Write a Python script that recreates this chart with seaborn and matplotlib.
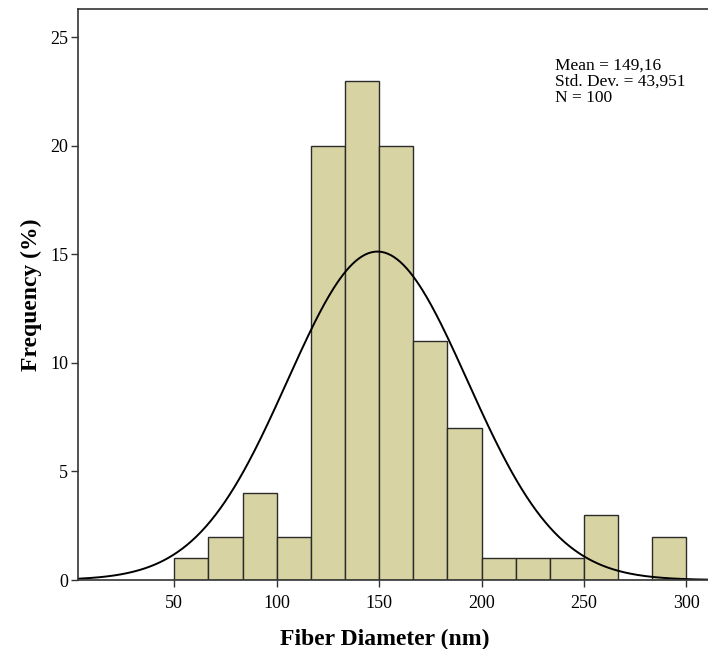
import numpy as np
import pandas as pd
import seaborn as sns
import matplotlib.pyplot as plt

# histogram (percent per bin, bins of 50/3 nm from 50 to 300)
bin_start = 50
bin_end = 300
n_bins = 15
percents = [1, 2, 4, 2, 20, 23, 20, 11, 7, 1, 1, 1, 3, 0, 2]

mean_val = 149.16
std_val = 43.951
n_obs = 100

x_ticks = [50, 100, 150, 200, 250, 300]
y_ticks = [0, 5, 10, 15, 20, 25]

edges = np.linspace(bin_start, bin_end, n_bins + 1)
mids = (edges[:-1] + edges[1:]) / 2
width = edges[1] - edges[0]
df = pd.DataFrame({"diameter": mids, "pct": percents})

sns.set_style("white")
plt.rcParams['font.family'] = ['Liberation Serif', 'DejaVu Serif']
plt.rcParams['text.color'] = 'black'
plt.rcParams['axes.labelcolor'] = 'black'
plt.rcParams['xtick.color'] = '#333333'
plt.rcParams['ytick.color'] = '#333333'

fig = plt.figure(figsize=(7.08, 6.49), dpi=100)
ax = fig.add_axes([0.1102, 0.1063, 0.8898, 0.8798])

sns.histplot(data=df, x="diameter", weights="pct", bins=edges.tolist(), ax=ax,
             color="#d8d3a3", edgecolor="#2b2b2b", linewidth=1.0, alpha=1.0)

xmin, xmax = 3, 310.5
xs = np.linspace(xmin, xmax, 400)
ys = 100 * width / (std_val * np.sqrt(2 * np.pi)) * np.exp(-0.5 * ((xs - mean_val) / std_val) ** 2)
sns.lineplot(x=xs, y=ys, ax=ax, color="black", linewidth=1.4)

ax.set_xlim(xmin, xmax)
ax.set_ylim(0, 26.3)
ax.set_xticks(x_ticks)
ax.set_yticks(y_ticks)
ax.tick_params(axis="both", direction="out", length=5, width=1,
               labelsize=13, labelcolor="black", bottom=True, left=True)
ax.tick_params(axis="x", pad=6)
ax.tick_params(axis="y", pad=2)
for side in ["left", "bottom", "top"]:
    ax.spines[side].set_color("#333333")
    ax.spines[side].set_linewidth(1.2)
ax.spines["right"].set_visible(False)

ax.set_xlabel("Fiber Diameter (nm)", fontsize=17, fontweight="bold", labelpad=10)
ax.xaxis.set_label_coords(0.487, -0.085)
ax.set_ylabel("Frequency (%)", fontsize=17, fontweight="bold", labelpad=6)

stats = "\n".join([
    "Mean = " + f"{mean_val:.2f}".replace(".", ","),
    "Std. Dev. = " + f"{std_val:.3f}".replace(".", ","),
    f"N = {n_obs}",
])
ax.text(0.757, 0.914, stats, transform=ax.transAxes, fontsize=12.5,
        va="top", ha="left", linespacing=1.0)

fig.savefig("out.png", dpi=100)
